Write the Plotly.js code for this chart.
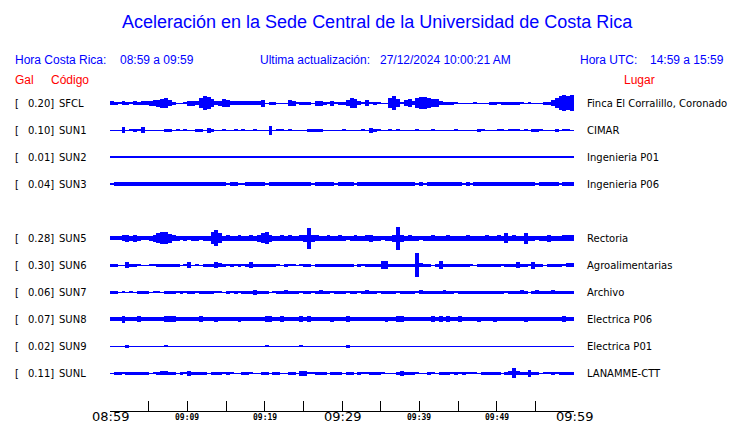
<!DOCTYPE html>
<html><head><meta charset="utf-8">
<script src="https://cdn.plot.ly/plotly-3.0.1.min.js"></script>
<style>body{margin:0;background:#fff}</style>
</head><body><div id="chart" style="width:740px;height:423px"></div>
<script>
// ---------------- data ----------------
const stations = ['SFCL','SUN1','SUN2','SUN3','SUN5','SUN6','SUN7','SUN8','SUN9','SUNL'];
const galValues = ['0.20','0.10','0.01','0.04','0.28','0.30','0.06','0.07','0.02','0.11'];
const places = ['Finca El Corralillo, Coronado','CIMAR','Ingenieria P01','Ingenieria P06','Rectoria',
                'Agroalimentarias','Archivo','Electrica P06','Electrica P01','LANAMME-CTT'];
const tickLabels = ['08:59','','09:09','','09:19','','09:29','','09:39','','09:49','','09:59'];
const majorLabels = ['08:59','09:29','09:59'];
const windowMinutes = 60;

// envelope half-amplitude per half-minute window (display units, 27 = one row)
const ampSFCL = [2,1.5,1,2,1.5,1,2,1.5,2,2, 2.5,3,3.5,4.5,5,3,1.5,0.5,0.5,1, 2.5,2.5,2,5,7,6,4,2,2.5,4,
  3.5,2,2,2,2,2,2,2,2,3.5, 0.5,1.5,1.5,0.5,0.5,0.5,3,2.5,1,1.5, 1.5,1.5,0.5,2.5,2.5,1.5,1,2.5,1,1.5,
  1.5,3,5,4.5,2,1,3,1,1.5,1, 0.5,0.5,5,7,4,1,3,4,2,5, 6,6,5,4,4,2,1.5,1.5,1.5,1,
  0.5,0.5,0.5,0.5,1,0.5,0.5,0.5,1.5,1.5, 1,1.5,1.5,1.5,1.5,1.5,1,0.5,1,0.5, 0.5,0.5,1.5,1.5,3,5,7,8,7,8];
const ampSUN1 = [0.5,0.5,0.5,3,0.5,1,1.5,1,3,0.5, 0.5,0.5,0.5,0.5,1.5,1.5,0.5,1,0.5,1, 0.5,0.5,1.5,1.5,0.5,2.5,1.5,0.5,0.5,1,
  0.5,0.5,1,0.5,1,0.5,0.5,1,0.5,0.5, 0.5,4.5,0.5,1,1,0.5,1,0.5,0.5,0.5, 0.5,1.5,1.5,1.5,1.5,0.5,0.5,0.5,0.5,0.5,
  1,0.5,0.5,0.5,0.5,0.8,0.5,2.5,1.5,1, 0.5,0.5,1,0.5,1,0.5,0.5,0.5,0.5,1, 0.5,0.5,0.5,1,0.5,0.5,0.5,0.5,0.5,1,
  0.5,0.5,0.5,0.5,0.5,1.5,1,0.5,0.5,0.5, 1,1,0.5,1,1,1,0.5,1,0.5,1.5, 1.5,1,0.5,0.5,0.5,1.5,0.5,1,1,0.5];
const ampSUN2 = [0.6,0.6,0.6,0.6,0.6,0.6,0.6,0.6,0.6,0.6, 0.6,0.6,0.6,0.6,0.6,0.6,0.6,0.6,0.6,0.6, 0.6,0.6,0.6,0.6,0.6,0.6,0.6,0.6,0.6,0.6,
  0.6,0.6,0.6,0.6,0.6,0.6,0.6,0.6,0.6,0.6, 0.6,0.6,0.6,0.6,0.6,0.6,0.6,0.6,0.6,0.6, 0.6,0.6,0.6,0.6,0.6,0.6,0.6,0.6,0.6,0.6,
  0.6,0.6,0.6,0.6,0.6,0.6,0.6,0.6,0.6,0.6, 0.6,0.6,0.6,0.6,0.6,0.6,0.6,0.6,0.6,0.6, 0.6,0.6,0.6,0.6,0.6,0.6,0.6,0.6,0.6,0.6,
  0.6,0.6,0.6,0.6,0.6,0.6,0.6,0.6,0.6,0.6, 0.6,0.6,0.6,0.6,0.6,0.6,0.6,0.6,0.6,0.6, 0.6,0.6,0.6,0.6,0.6,0.6,0.6,0.6,0.6,0.6];
const ampSUN3 = [1.2,1.8,1.8,1.8,1.8,1.8,1.8,1.8,1.8,1.8, 1.8,1.8,1.8,1.8,1.8,1.8,1.8,1.8,1.8,1.8, 1.8,1.8,1.8,1.8,1.8,1.8,1.8,1.8,1.8,1.8,
  1.2,1.8,1.8,1.2,1.2,1.8,1.8,1.8,1.8,1.8, 1.2,1.8,1.8,1.8,1.8,1.8,1.8,1.8,1.8,1.8, 1.8,1.8,1.2,1.8,1.8,1.8,1.8,1.8,1.2,1.8,
  1.8,1.8,1.8,1.2,1.8,1.8,1.8,1.8,1.8,1.8, 1.8,1.8,1.8,1.8,1.8,1.8,2.4,1.8,1.8,1.2, 1.8,1.2,1.8,1.8,1.8,1.8,1.8,1.8,1.8,1.8,
  1.8,1.2,1.8,1.2,1.8,1.8,1.8,1.8,1.8,1.8, 1.8,1.8,1.8,1.8,1.8,1.8,1.8,1.8,1.8,1.8, 1.2,1.8,1.8,1.8,1.8,1.8,1.2,1.8,1.8,1.8];
const ampSUN5 = [2,2,2.2,3,3.5,2.5,3.5,2.5,2.3,2.3, 2.5,3.5,5,6,6,4.5,3,2.5,2.3,2.5, 2.3,2.5,2.5,2.3,2.5,2.5,6,8,5,2.5,
  3,2.5,2.5,3,2.5,2.5,3,2.5,3.5,5, 6,3.5,2.5,2.5,3,2.5,3,2.5,2.5,3, 3.5,10.5,3.5,3,2.5,2.5,3,2.5,2.5,3,
  2.5,2.3,2.5,3,2.5,2.5,3,3.5,2.5,2.5, 2.3,2.5,2.5,3.5,11.5,3.5,2.5,3,2.5,2.5, 2.3,2.5,2.5,3,2.5,2.5,2.5,3,2.5,2.5,
  2.5,2.5,3,2.5,2.5,2.5,2.5,3,2.5,2.5, 3,2.5,5,2.5,3,2.5,2.5,5.5,2.5,2.5, 2.3,2.5,2.5,3.5,2.5,2.5,2.5,3,3,3];
const ampSUN6 = [1.5,1.5,0.5,0.5,3,1.5,1.5,1,0.5,0.5, 1,1,1.5,1.5,1.5,1.5,1.5,1.5,0.5,1, 3,0.5,1,0.5,1.5,1.5,1.5,3,2,1.5,
  1,1.5,1,1.5,1,1.5,3,1.5,1.5,1.5, 1.5,1.5,1.5,1,0.5,1.5,1,1,0.5,1, 1.5,1.5,0.5,1.5,1.5,1.5,1.5,1.5,1.5,1.5,
  1.5,1.5,1.5,0.5,1.5,1,1.5,1.5,1.5,1.5, 4,4,1.5,1.5,1.5,1.5,1.5,1.5,1.5,11.7, 2,1.5,1.5,0.5,1.5,4,1.5,1.5,1.5,1.5,
  1.5,1.5,1.5,1,0.5,1.5,1.5,1.5,1.5,1.5, 1.5,1,1.5,1.5,1.5,3,1.5,1.5,1,3.5, 1.5,1.5,0.5,1.5,1.5,1.5,1.5,1,2,2];
const ampSUN7 = [1.5,1.5,0.5,1,0.5,1,0.5,1.5,1.5,1.5, 0.5,1,1,0.5,1.5,1.5,1.5,1,1.5,1, 1.5,1.5,1,1.5,1.5,1.5,1.5,1,1,0.5,
  1.5,1,1.5,1,1.5,1.5,1.5,2.5,1.5,1.5, 1.5,0.5,1,1.5,1.5,2,1.5,1.5,1.5,1, 1.5,1.5,1,1.5,2.2,1.5,1.5,1,1.5,1.5,
  1.5,1,1.5,1.5,1,1.5,2,1.5,1.5,1, 1.5,1.5,1.5,1.5,1,1.5,1.5,1.5,1.5,1, 2,1.5,1.5,1.5,1.5,1.5,2,1.5,1.5,1,
  1.5,1.5,1.5,1.5,1.5,1.5,1.5,1.5,1.5,1.5, 1.5,1.5,1,1.5,1.5,1.5,2,1.5,0.5,1.5, 2,1.5,1.5,1.5,2,1.5,1.5,1.5,1.5,1.5];
const ampSUN8 = [1.8,1.8,1.8,3.5,1.8,1.8,1.8,3,1.8,1.8, 1.8,1.8,2.4,2.4,3,3,3,1.8,1.8,1.8, 1.8,1.8,1.8,3,1.8,1.8,1.8,2.5,1.8,2.4,
  1.8,1.8,1.8,2.5,1.8,1.8,1.8,1.8,2.4,1.8, 3,3,2.4,1.8,3,2.4,1.8,1.8,1.8,3, 1.8,3,1.8,1.8,1.8,2.4,1.8,2.5,2.4,1.8,
  2.4,3,1.8,1.8,1.8,1.8,2.4,1.8,2.4,1.8, 1.8,2.5,2.4,2.4,3,3,1.8,2.4,1.8,1.8, 1.8,1.8,1.8,3,1.8,3,2.4,3,1.8,1.8,
  3,1.8,1.8,1.8,1.8,2.5,2.4,2.4,1.8,2.5, 2.4,1.8,1.8,2.4,1.8,1.8,1.8,2.5,2.4,1.8, 1.8,1.8,1.8,1.8,1.8,1.8,1.8,3,1.8,1.8];
const ampSUN9 = [0.5,0.5,0.5,0.5,1.5,0.5,0.5,0.5,0.5,0.5, 0.5,0.5,0.5,0.5,1,0.5,0.5,0.5,0.5,0.5, 0.5,0.5,0.5,0.5,0.5,0.5,0.5,0.5,0.5,0.5,
  0.5,0.5,0.5,0.5,0.5,0.5,0.5,0.5,0.5,0.5, 1,0.5,0.5,0.5,0.5,0.5,0.5,0.5,0.5,1, 0.5,0.5,0.5,0.5,0.5,0.5,0.5,0.5,0.5,0.5,
  0.5,1.5,0.5,0.5,0.5,0.5,0.5,0.5,0.5,0.5, 0.5,0.5,0.5,0.5,0.5,0.5,0.5,0.5,0.5,0.5, 0.5,0.5,0.5,0.5,0.5,0.5,0.5,0.5,0.5,0.5,
  0.5,0.5,0.5,0.5,0.5,0.5,0.5,0.5,0.5,0.5, 0.5,0.5,0.5,0.5,0.5,0.5,0.5,0.5,0.5,0.5, 0.5,0.5,0.5,0.5,0.5,0.5,0.5,0.5,0.5,0.5];
const ampSUNL = [0.5,1.5,1.5,1,1.5,1.5,1.5,1.5,1.5,1.5, 0.5,1,1.5,2,2,1.5,1.5,0.5,1.5,1, 2.5,1.5,1.5,1.5,1.5,0.5,1.5,1.5,1.5,1,
  1.5,1,0.5,0.5,1.5,1.5,1,0.5,0.5,1.5, 1.5,0.5,1.5,1.5,0.5,0.5,1.5,1.5,0.5,2.5, 2.5,1,1,1.5,1.5,1.5,0.5,1.5,1.5,1.5,
  0.5,1.5,1.5,0.5,1.5,1,1,1.5,1.5,1.5, 1,0.5,0.5,0.5,1.5,2.5,1.5,1.5,1.5,1, 0.5,0.5,1.5,1,0.5,1.5,1.5,1.5,1,1.5,
  1,1.5,1,1,1,0.5,1.5,1.5,1.5,1.5, 1.5,0.5,1.5,2,4.7,2,1.5,1.5,3.5,1.5, 1.5,0.5,1,1,1.5,1,1.5,1.5,1.5,1.5];
const amplitudes = [ampSFCL, ampSUN1, ampSUN2, ampSUN3, ampSUN5, ampSUN6, ampSUN7, ampSUN8, ampSUN9, ampSUNL];

// ---------------- layout geometry (pixels) ----------------
const PL = 110, PR = 574, PT = 88, PB = 411, ROW0 = 103, ROWH = 27;
const BLUE = '#0000ff', RED = '#ff0000';
const px2x = p => (p - PL) / (PR - PL);
const py2y = p => (PB - p) / (PB - PT);
// SUN4 is not shown: leave an empty row in its place
const rowOf = i => (i < 4 ? i : i + 1);

const traces = amplitudes.map((amp, i) => {
  const bin = windowMinutes / amp.length;
  const row = rowOf(i);
  return {
    type: 'bar',
    x: amp.map((_, j) => (j + 0.5) * bin),
    y: amp.map(a => 2 * a / ROWH),
    base: amp.map(a => row - a / ROWH),
    width: bin,
    marker: {color: BLUE, line: {width: 0}},
    hoverinfo: 'skip', showlegend: false
  };
});

const ann = [];
const hdrFont = {family: 'Liberation Sans, Arial, sans-serif', size: 12, color: BLUE};
const txt = (text, x, y, opts) => Object.assign({
  text, x: px2x(x), y: py2y(y), xref: 'paper', yref: 'paper',
  xanchor: 'left', yanchor: 'middle', showarrow: false, borderpad: 0, font: hdrFont
}, opts || {});

ann.push(txt('Aceleración en la Sede Central de la Universidad de Costa Rica', 377, 22,
  {xanchor: 'center', font: {family: 'Liberation Sans, Arial, sans-serif', size: 18, color: BLUE}}));
ann.push(txt('Hora Costa Rica:', 14, 60));
ann.push(txt('08:59 a 09:59', 119, 60));
ann.push(txt('Ultima actualización:', 259, 60));
ann.push(txt('27/12/2024 10:00:21 AM', 379, 60));
ann.push(txt('Hora UTC:', 579, 60));
ann.push(txt('14:59 a 15:59', 649, 60));
const redFont = {family: 'Liberation Sans, Arial, sans-serif', size: 12, color: RED};
ann.push(txt('Gal', 14, 80, {font: redFont}));
ann.push(txt('Código', 50, 80, {font: redFont}));
ann.push(txt('Lugar', 623, 80, {font: redFont}));

const labFont = {family: 'DejaVu Sans, sans-serif', size: 10, color: '#000000'};
stations.forEach((s, i) => {
  const row = rowOf(i);
  const base = {xref: 'paper', yref: 'y', y: row, yanchor: 'middle', showarrow: false, borderpad: 0, font: labFont};
  ann.push(Object.assign({}, base, {text: '[', x: px2x(14), xanchor: 'left'}));
  ann.push(Object.assign({}, base, {text: galValues[i] + ']', x: px2x(55), xanchor: 'right'}));
  ann.push(Object.assign({}, base, {text: s, x: px2x(58), xanchor: 'left'}));
  ann.push(Object.assign({}, base, {text: places[i], x: px2x(586), xanchor: 'left'}));
});

// time-axis labels: large for the hour/half hour, small monospace for the others
const tickStep = windowMinutes / (tickLabels.length - 1);
const tickvals = tickLabels.map((_, k) => k * tickStep);
tickLabels.forEach((t, k) => {
  if (t === '') return;
  const major = majorLabels.includes(t);
  ann.push({
    text: t, xref: 'x', yref: 'paper', x: tickvals[k], y: py2y(major ? 416 : 417),
    xanchor: 'center', yanchor: 'middle', showarrow: false, borderpad: 0,
    font: major ? {family: 'DejaVu Sans, sans-serif', size: 13, color: '#000'}
                : {family: 'DejaVu Sans Mono, monospace', size: 8, color: '#000', weight: 'bold'}
  });
});

const layout = {
  width: 740, height: 423,
  margin: {l: PL, r: 740 - PR, t: PT, b: 423 - PB, pad: 0},
  paper_bgcolor: '#ffffff', plot_bgcolor: '#ffffff',
  barmode: 'overlay', bargap: 0, showlegend: false,
  xaxis: {range: [0, windowMinutes], showgrid: false, zeroline: false, showline: true,
    linecolor: '#000', linewidth: 1, ticks: 'inside', ticklen: 10, tickcolor: '#000', tickwidth: 1,
    tickmode: 'array', tickvals, showticklabels: false, fixedrange: true},
  yaxis: {range: [(PB - ROW0) / ROWH, (PT - ROW0) / ROWH], visible: false, showgrid: false,
    zeroline: false, fixedrange: true},
  annotations: ann
};

Plotly.newPlot('chart', traces, layout, {staticPlot: true, displayModeBar: false});
</script></body></html>
